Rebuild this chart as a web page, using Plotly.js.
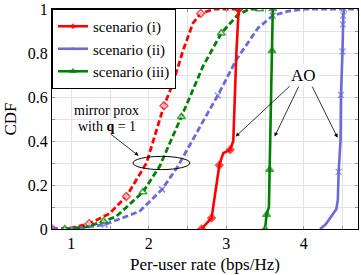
<!DOCTYPE html>
<html>
<head>
<meta charset="utf-8">
<script src="https://cdn.plot.ly/plotly-3.0.1.min.js"></script>
<style>html,body{margin:0;padding:0;background:#fff;}#chart{width:361px;height:275px;}</style>
</head>
<body>
<div id="chart"></div>
<script>
// Mirror prox (dashed) curves
const mpRedX   = [0.75, 1.0, 1.23, 1.49, 1.71, 1.97, 2.195, 2.31, 2.44, 2.57, 2.67, 2.85, 3.16];
const mpRedY   = [0, 0.005, 0.024, 0.07, 0.148, 0.30, 0.56, 0.66, 0.81, 0.936, 0.98, 1, 1];
const mpRedMk  = [0, 2, 4, 6, 10, 12];

const mpBlueX  = [0.75, 1.1, 1.43, 1.88, 2.17, 2.375, 2.76, 2.89, 3.13, 3.41, 3.60, 3.8, 4.0, 4.7];
const mpBlueY  = [0, 0.005, 0.02, 0.08, 0.18, 0.285, 0.527, 0.607, 0.77, 0.914, 0.97, 0.99, 1, 1];
const mpBlueMk = [0, 2, 4, 7, 10];

const mpGreenX = [0.915, 1.2, 1.417, 1.58, 1.924, 2.14, 2.42, 2.70, 2.935, 3.15, 3.30, 3.43];
const mpGreenY = [0, 0.01, 0.035, 0.057, 0.168, 0.285, 0.51, 0.74, 0.89, 0.974, 1, 1];
const mpGreenMk = [0, 2, 4, 6, 8, 11];

// AO (solid) curves
const aoRedX   = [2.68, 2.81, 2.91, 2.96, 3.05, 3.09, 3.11, 3.13, 3.16];
const aoRedY   = [0, 0.05, 0.29, 0.345, 0.36, 0.40, 0.60, 0.80, 1];
const aoRedMk  = [0, 1, 2, 4, 8];

const aoBlueX  = [4.21, 4.28, 4.32, 4.37, 4.42, 4.44, 4.45, 4.475, 4.48, 4.50, 4.505, 4.51, 4.52];
const aoBlueY  = [0, 0.02, 0.04, 0.065, 0.09, 0.133, 0.26, 0.405, 0.61, 0.807, 0.93, 0.97, 1];
const aoBlueMk = [6, 8, 9, 10, 11, 12];

const aoGreenX = [3.50, 3.52, 3.55, 3.56, 3.575, 3.59, 3.60];
const aoGreenY = [0, 0.065, 0.10, 0.27, 0.55, 0.81, 1];
const aoGreenMk = [0, 1, 3, 5, 6];

const seriesNames = ['scenario (i)', 'scenario (ii)', 'scenario (iii)'];
const xTickVals = [1, 1.5, 2, 2.5, 3, 3.5, 4, 4.5];
const xTickText = ['1', '', '2', '', '3', '', '4', ''];
const yTickVals = [0, 0.1, 0.2, 0.3, 0.4, 0.5, 0.6, 0.7, 0.8, 0.9, 1];
const yTickText = ['0', '', '0.2', '', '0.4', '', '0.6', '', '0.8', '', '1'];

const RED = '#ff0000', BLUE = '#6a6adb', GREEN = '#008000';
const FONT = 'Liberation Serif, Times New Roman, serif';

function sizes(n, idx, s) { const a = new Array(n).fill(0); idx.forEach(i => a[i] = s); return a; }

function trace(x, y, mk, color, sym, msize, dashed, name, showleg) {
  return {
    x: x, y: y, type: 'scatter', mode: 'lines+markers', name: name, showlegend: showleg,
    line: {color: color, width: dashed ? 2.8 : 2.6, dash: dashed ? '6px,3px' : 'solid'},
    marker: {color: dashed ? 'white' : color, symbol: sym, size: sizes(x.length, mk, msize),
             line: {color: color, width: dashed ? 1.5 : 1.2}},
    hoverinfo: 'skip'
  };
}

const data = [
  trace(mpRedX, mpRedY, mpRedMk, RED, 'diamond', 6, true, seriesNames[0], false),
  trace(mpBlueX, mpBlueY, mpBlueMk, BLUE, 'x-thin', 6, true, seriesNames[1], false),
  trace(mpGreenX, mpGreenY, mpGreenMk, GREEN, 'triangle-up', 7, true, seriesNames[2], false),
  trace(aoRedX, aoRedY, aoRedMk, RED, 'diamond', 6, false, seriesNames[0], true),
  trace(aoBlueX, aoBlueY, aoBlueMk, BLUE, 'x-thin', 6, false, seriesNames[1], true),
  trace(aoGreenX, aoGreenY, aoGreenMk, GREEN, 'triangle-up', 7, false, seriesNames[2], true)
];

const arrowStyle = {showarrow: true, arrowhead: 2, arrowsize: 1, arrowwidth: 0.8, arrowcolor: 'black',
                    axref: 'x', ayref: 'y', text: ''};

const layout = {
  width: 361, height: 275,
  margin: {l: 52, r: 3, t: 9, b: 46},
  paper_bgcolor: 'white', plot_bgcolor: 'white',
  font: {family: FONT, color: 'black', size: 16},
  showlegend: true,
  legend: {x: 0, y: 1, xanchor: 'left', yanchor: 'top', bgcolor: 'white', bordercolor: 'black',
           borderwidth: 1, font: {size: 15, family: FONT}, tracegroupgap: 0},
  xaxis: {range: [0.75, 4.7], tickvals: xTickVals, ticktext: xTickText, showgrid: true,
          gridcolor: '#e3e3e3', gridwidth: 1, zeroline: false, showline: true, linecolor: 'black',
          linewidth: 1, mirror: 'ticks', ticks: 'inside', ticklen: 3, tickcolor: '#999',
          tickfont: {size: 16}, title: {text: 'Per-user rate (bps/Hz)', font: {size: 17}, standoff: 6}},
  yaxis: {range: [0, 1], tickvals: yTickVals, ticktext: yTickText, showgrid: true,
          gridcolor: '#e3e3e3', gridwidth: 1, zeroline: false, showline: true, linecolor: 'black',
          linewidth: 1, mirror: 'ticks', ticks: 'inside', ticklen: 3, tickcolor: '#999',
          tickfont: {size: 16}, title: {text: 'CDF', font: {size: 17}, standoff: 6}},
  shapes: [
    {type: 'circle', xref: 'x', yref: 'y', x0: 1.795, x1: 2.53, y0: 0.27, y1: 0.33,
     line: {color: 'black', width: 1}}
  ],
  annotations: [
    {x: 1.455, y: 0.54, xref: 'x', yref: 'y', text: 'mirror prox', showarrow: false,
     font: {size: 14}, borderpad: 0},
    {x: 1.455, y: 0.465, xref: 'x', yref: 'y', text: 'with <b>q</b> = 1', showarrow: false,
     font: {size: 14}, borderpad: 0},
    Object.assign({x: 1.868, y: 0.333, ax: 1.494, ay: 0.435, xref: 'x', yref: 'y'}, arrowStyle),
    Object.assign({x: 3.12, y: 0.42, ax: 3.839, ay: 0.656, xref: 'x', yref: 'y'}, arrowStyle),
    Object.assign({x: 3.623, y: 0.42, ax: 3.946, ay: 0.656, xref: 'x', yref: 'y'}, arrowStyle),
    Object.assign({x: 4.436, y: 0.415, ax: 4.097, ay: 0.656, xref: 'x', yref: 'y'}, arrowStyle),
    {x: 4.0, y: 0.70, xref: 'x', yref: 'y', text: 'AO', showarrow: false,
     font: {size: 17}, bgcolor: 'white', borderpad: 1}
  ]
};

Plotly.newPlot('chart', data, layout, {staticPlot: true, displayModeBar: false});
</script>
</body>
</html>
